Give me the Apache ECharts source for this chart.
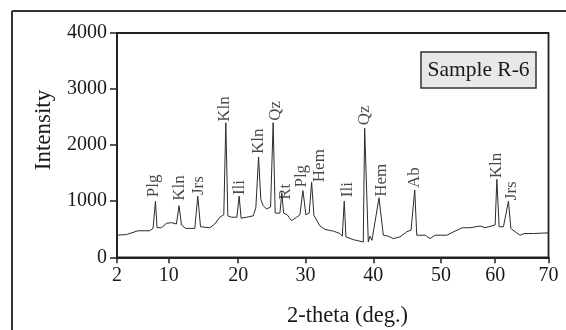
<!DOCTYPE html>
<html>
<head>
<meta charset="utf-8">
<script src="https://cdn.jsdelivr.net/npm/echarts@6/dist/echarts.min.js"></script>
<style>html,body{margin:0;padding:0;background:#fff;}#c{width:566px;height:330px;}</style>
</head>
<body>
<div id="c"></div>
<script>
// ---- data (2-theta, intensity in counts) ----
const twoTheta = [2.00,3.48,5.31,7.16,7.68,8.06,8.31,9.00,9.79,10.58,11.37,11.78,12.16,12.84,14.26,14.73,15.16,15.47,16.63,17.41,18.20,18.83,19.15,19.47,20.05,20.89,21.25,21.56,22.42,23.46,23.88,24.31,24.67,25.04,25.57,26.20,26.61,26.93,27.67,27.98,28.25,28.82,29.51,30.30,30.82,31.30,31.77,32.29,32.67,33.03,33.98,34.77,36.08,37.14,37.50,37.81,38.08,39.23,40.81,41.03,41.60,41.87,42.18,43.29,43.97,44.76,45.54,46.60,47.66,48.34,48.92,49.24,50.55,51.34,52.12,53.97,55.28,56.43,57.65,59.23,60.02,61.59,61.86,62.22,62.90,63.69,64.07,64.75,65.53,66.17,67.63,70.00];
const intensity = [394,406,473,473,515,1000,527,527,606,618,594,921,576,515,515,1091,545,515,527,594,715,758,2400,739,715,715,1091,697,715,739,880,1790,1030,921,860,897,2400,788,788,1151,788,758,654,715,758,1190,758,788,1340,750,560,497,467,424,376,1000,364,315,273,2300,273,376,303,1060,394,376,333,364,455,485,1200,394,394,333,394,394,467,527,527,558,527,576,1390,545,545,1000,515,455,394,424,424,436];
const peakNames = ['Plg','Kln','Jrs','Kln','Ili','Kln','Qz','Rt','Plg','Hem','Ili','Qz','Hem','Ab','Kln','Jrs'];
const peakTheta = [8.06,11.78,14.73,19.15,21.25,24.31,26.61,27.98,31.30,32.67,37.81,41.03,43.29,48.92,61.86,63.69];
const peakIntensity = [1000,921,1091,2400,1091,1790,2400,1151,1190,1340,1000,2300,1060,1200,1390,1000];
const xTickLabels = ['2','10','20','30','40','50','60','70'];
const xTickValues = [2,10.16,21.09,31.72,42.39,53.07,61.59,70];
const yTicks = [0,1000,2000,3000,4000];
const sampleName = 'Sample R-6';
const xName = '2-theta (deg.)';
const yName = 'Intensity';

// ---- label nudges (px), style only: gap above peak, shift to the right ----
const labelGap = [4,5,1,1,1,3,2,-7,3,0,4,3,1,2,1,1];
const labelShift = [-2,0,1,-1,0,0,2,4,-1,8,3,0,3,0,0,3];

const FONT = '"Liberation Serif","Times New Roman",serif';
const INK = '#1a1a1a';

const chart = echarts.init(document.getElementById('c'), null, {renderer:'canvas'});
const lineData = twoTheta.map((x,i)=>[x,intensity[i]]);
const labelData = peakTheta.map((x,i)=>({
  value:[x,peakIntensity[i]],
  // label is rotated 90deg: offset[0] moves it up the screen, offset[1] to the right
  label:{formatter:peakNames[i], offset:[labelGap[i], labelShift[i]]}
}));

function nearestLabel(v){
  let best=0, d=Infinity;
  xTickValues.forEach((t,i)=>{const dd=Math.abs(t-v); if(dd<d){d=dd;best=i;}});
  return xTickLabels[best];
}

chart.setOption({
  animation:false,
  backgroundColor:'#fff',
  grid:{left:117, right:17.5, top:33, bottom:72.7, show:true, borderColor:'#222', borderWidth:1.8, backgroundColor:'transparent'},
  xAxis:{
    type:'value', min:2, max:70,
    axisLine:{show:true, onZero:false, lineStyle:{color:'#222', width:1.8}},
    axisTick:{show:true, customValues:xTickValues, length:6, lineStyle:{color:'#222', width:1.5}},
    axisLabel:{customValues:xTickValues, formatter:(v)=>nearestLabel(v), fontFamily:FONT, fontSize:20, color:INK, margin:8},
    splitLine:{show:false}
  },
  yAxis:{
    type:'value', min:0, max:4000, interval:1000,
    axisLine:{show:true, lineStyle:{color:'#222', width:1.8}},
    axisTick:{show:true, length:7, lineStyle:{color:'#222', width:1.5}},
    axisLabel:{customValues:yTicks, formatter:(v)=>String(v), fontFamily:FONT, fontSize:20, color:INK, margin:10},
    splitLine:{show:false}
  },
  series:[
    {type:'line', data:lineData, showSymbol:false, symbol:'none',
     lineStyle:{color:'#2b2b2b', width:1}, z:3},
    {type:'scatter', data:labelData, symbolSize:0, silent:true, z:4,
     label:{show:true, position:'top', distance:0, rotate:90, align:'left', verticalAlign:'middle',
       fontFamily:FONT, fontSize:17, color:INK}}
  ],
  graphic:[
    {type:'line', shape:{x1:12, y1:11, x2:12, y2:330}, style:{stroke:'#333', lineWidth:2}},
    {type:'line', shape:{x1:12, y1:11, x2:566, y2:11}, style:{stroke:'#333', lineWidth:2}},
    {type:'rect', shape:{x:421, y:52, width:115, height:36}, style:{fill:'#e8e8e8', stroke:'#333', lineWidth:1.5}},
    {type:'text', x:478.5, y:70, style:{text:sampleName, font:'21.5px '+FONT, fill:INK, align:'center', verticalAlign:'middle'}},
    {type:'text', x:347.5, y:316, style:{text:xName, font:'22.5px '+FONT, fill:INK, align:'center', verticalAlign:'middle'}},
    {type:'text', x:44, y:130, rotation:Math.PI/2, style:{text:yName, font:'23px '+FONT, fill:INK, align:'center', verticalAlign:'middle'}}
  ]
});
</script>
</body>
</html>
